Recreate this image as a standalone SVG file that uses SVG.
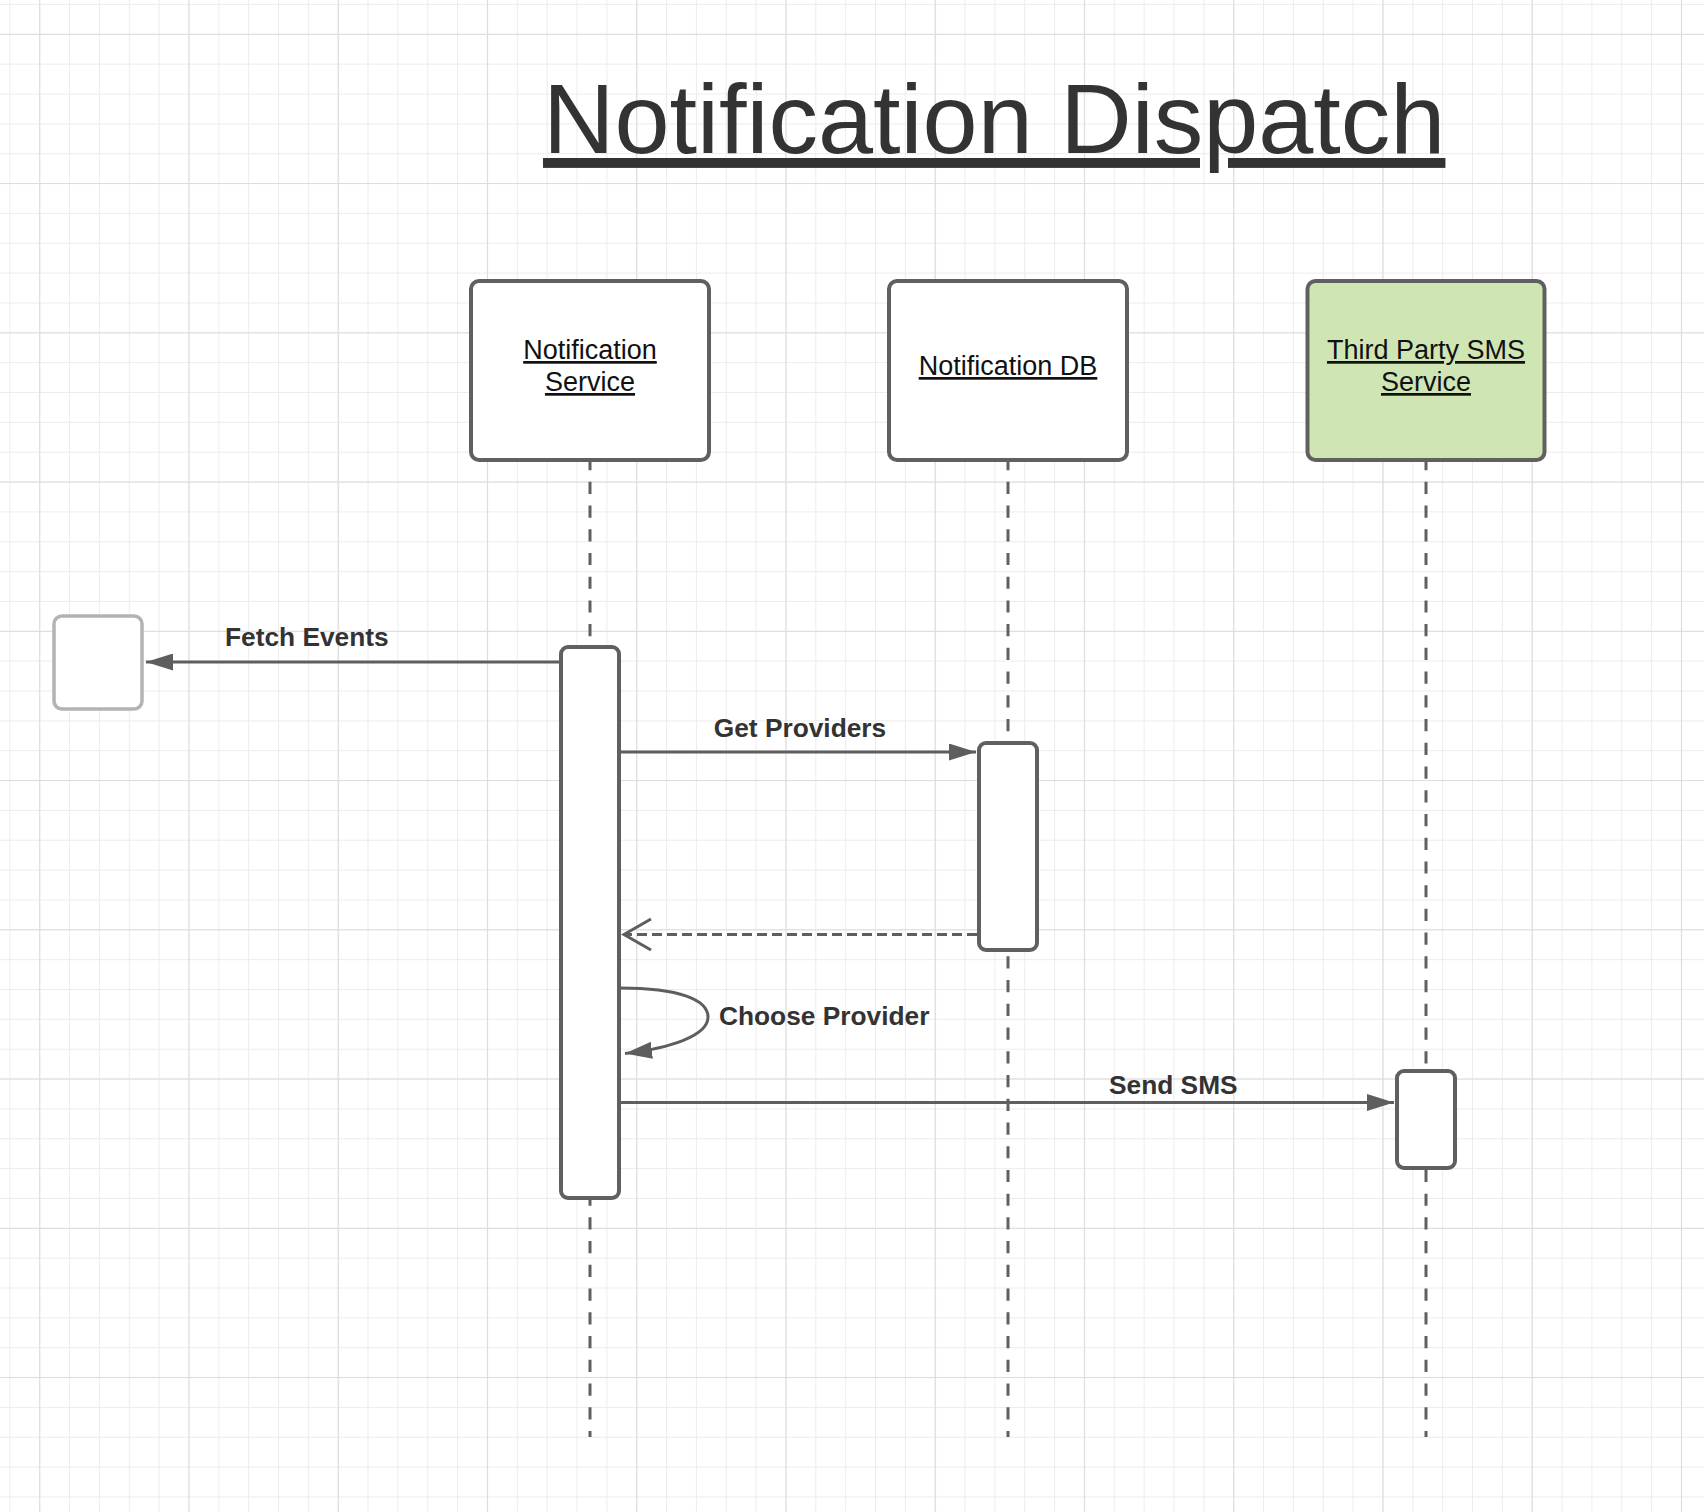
<svg xmlns="http://www.w3.org/2000/svg" width="1704" height="1512" viewBox="0 0 1704 1512">
<style>
.box{fill:#ffffff;stroke:#606060;stroke-width:4}
.bar{fill:#ffffff;stroke:#606060;stroke-width:4}
.life{stroke:#606060;stroke-width:3;stroke-dasharray:12.2 11.53;fill:none}
.msg{stroke:#5e5e5e;stroke-width:3;fill:none}
.ret{stroke:#5e5e5e;stroke-width:3;fill:none;stroke-dasharray:10 5}
.name{font-family:"Liberation Sans",Arial,sans-serif;font-size:27px;fill:#111111;text-anchor:middle;text-decoration:underline}
.lbl{font-family:"Liberation Sans",Arial,sans-serif;font-size:26.3px;font-weight:bold;fill:#333333}
.title{font-family:"Liberation Sans",Arial,sans-serif;font-size:99px;fill:#333333;text-decoration:underline}
</style>
<defs>
<pattern id="minor" patternUnits="userSpaceOnUse" x="9.35" y="3.95" width="29.85" height="29.85">
<path d="M0.5,0 V29.85 M0,0.5 H29.85" stroke="#ececec" stroke-width="1" fill="none"/>
</pattern>
<pattern id="major" patternUnits="userSpaceOnUse" x="39.2" y="33.8" width="149.25" height="149.25">
<path d="M0.5,0 V149.25 M0,0.5 H149.25" stroke="#dcdcdc" stroke-width="1.2" fill="none"/>
</pattern>
<marker id="tri" viewBox="0 0 27 17" refX="27" refY="8.5" markerWidth="27" markerHeight="17" markerUnits="userSpaceOnUse" orient="auto">
<path d="M0,0 L27,8.5 L0,17 Z" fill="#5e5e5e"/>
</marker>
</defs>
<rect x="0" y="0" width="1704" height="1512" fill="#ffffff"/>
<rect x="0" y="0" width="1704" height="1512" fill="url(#minor)"/>
<rect x="0" y="0" width="1704" height="1512" fill="url(#major)"/>

<g id="title">
<text class="title" x="543" y="153">Notification Dispatch</text>
</g>

<g id="lifelines">
<line class="life" x1="590" y1="458" x2="590" y2="1437"/>
<line class="life" x1="1008" y1="458" x2="1008" y2="1437"/>
<line class="life" x1="1426" y1="458" x2="1426" y2="1437"/>
</g>

<g id="node-notification-service">
<rect class="box" x="471" y="281" width="238" height="179" rx="8"/>
<text class="name" x="590" y="359">Notification</text>
<text class="name" x="590" y="391">Service</text>
</g>

<g id="node-notification-db">
<rect class="box" x="889" y="281" width="238" height="179" rx="8"/>
<text class="name" x="1008" y="375">Notification DB</text>
</g>

<g id="node-sms-service">
<rect class="box" x="1307.5" y="281" width="237" height="179" rx="8" style="fill:#cfe6b4"/>
<text class="name" x="1426" y="359">Third Party SMS</text>
<text class="name" x="1426" y="391">Service</text>
</g>

<g id="node-event-source">
<rect x="54" y="616" width="88" height="93" rx="8" fill="#ffffff" stroke="#b3b3b3" stroke-width="3.5"/>
</g>

<g id="activation-ns">
<rect class="bar" x="561" y="647" width="58" height="551" rx="7"/>
</g>
<g id="activation-db">
<rect class="bar" x="979" y="743" width="58" height="207" rx="7"/>
</g>
<g id="activation-sms">
<rect class="bar" x="1397" y="1071" width="58" height="97" rx="7"/>
</g>

<g id="connectors">
<line class="msg" x1="559" y1="662" x2="146" y2="662" marker-end="url(#tri)"/>
<text class="lbl" x="225" y="646">Fetch Events</text>

<line class="msg" x1="621" y1="752" x2="976" y2="752" marker-end="url(#tri)"/>
<text class="lbl" x="800" y="737" text-anchor="middle">Get Providers</text>

<line class="ret" x1="977" y1="934.5" x2="626" y2="934.5"/>
<polyline class="msg" points="651,919 624,934.5 651,950"/>

<path class="msg" d="M620,988 C680,988 708,1000 708,1017 C708,1036 670,1048 625,1053.5" marker-end="url(#tri)"/>
<text class="lbl" x="719" y="1025">Choose Provider</text>

<line class="msg" x1="621" y1="1102.5" x2="1394" y2="1102.5" marker-end="url(#tri)"/>
<text class="lbl" x="1109" y="1094">Send SMS</text>
</g>
</svg>
